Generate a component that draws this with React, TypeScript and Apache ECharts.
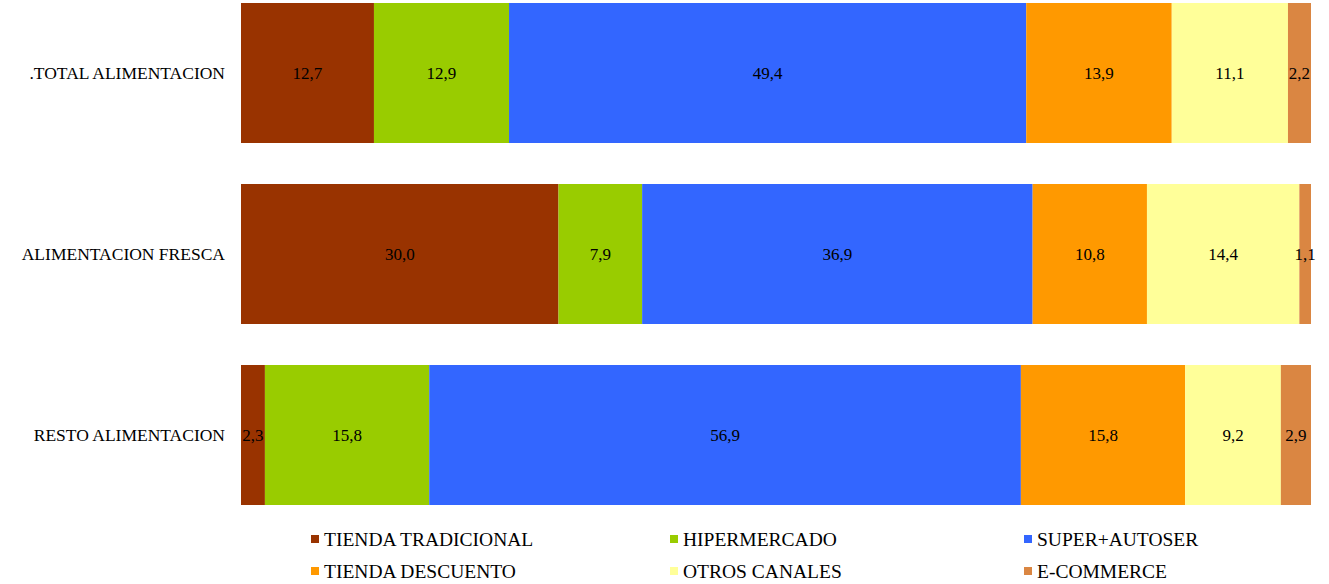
import React, { useEffect, useRef } from "react";
import * as echarts from "echarts";

const categories = [".TOTAL ALIMENTACION", "ALIMENTACION FRESCA", "RESTO ALIMENTACION"];
const seriesNames = ["TIENDA TRADICIONAL", "HIPERMERCADO", "SUPER+AUTOSER", "TIENDA DESCUENTO", "OTROS CANALES", "E-COMMERCE"];
const colors = ["#993300", "#99CC00", "#3366FF", "#FF9900", "#FFFF99", "#DA8642"];
const tiendaTradicional = [12.7, 30.0, 2.3];
const hipermercado = [12.9, 7.9, 15.8];
const superAutoser = [49.4, 36.9, 56.9];
const tiendaDescuento = [13.9, 10.8, 15.8];
const otrosCanales = [11.1, 14.4, 9.2];
const eCommerce = [2.2, 1.1, 2.9];

const rawSeries = [tiendaTradicional, hipermercado, superAutoser, tiendaDescuento, otrosCanales, eCommerce];
const legendPos = [
  { left: 311, top: 529 },
  { left: 670, top: 529 },
  { left: 1024, top: 529 },
  { left: 311, top: 561 },
  { left: 670, top: 561 },
  { left: 1024, top: 561 },
];

const FONT = "'Liberation Serif', 'DejaVu Serif', serif";

export default function App() {
  const ref = useRef<HTMLDivElement>(null);
  useEffect(() => {
    if (!ref.current) return;
    const chart = echarts.init(ref.current, null, { renderer: "svg" });
    const totals = categories.map((_, i) => rawSeries.reduce((s, arr) => s + arr[i], 0));
    const series = rawSeries.map((arr, k) => ({
      name: seriesNames[k],
      type: "bar",
      stack: "total",
      barWidth: 140,
      clip: false,
      itemStyle: { color: colors[k] },
      label: {
        show: true,
        position: "inside",
        color: "#000",
        fontFamily: FONT,
        fontSize: 17,
        formatter: (p: any) => arr[p.dataIndex].toFixed(1).replace(".", ","),
      },
      data: arr.map((v, i) => (v / totals[i]) * 100),
    }));
    chart.setOption({
      animation: false,
      textStyle: { fontFamily: FONT },
      grid: { left: 241, right: 18, top: 73, height: 362 },
      xAxis: {
        type: "value",
        min: 0,
        max: 100,
        show: false,
      },
      yAxis: {
        type: "category",
        data: categories,
        inverse: true,
        boundaryGap: false,
        axisLine: { show: false },
        axisTick: { show: false },
        splitLine: { show: false },
        axisLabel: { color: "#000", fontSize: 17.5, fontFamily: FONT, margin: 16 },
      },
      legend: seriesNames.map((n, k) => ({
        data: [n],
        left: legendPos[k].left,
        top: legendPos[k].top,
        icon: "rect",
        itemWidth: 8,
        itemHeight: 8,
        itemGap: 5,
        padding: 0,
        textStyle: { color: "#000", fontSize: 19.5, fontFamily: FONT },
      })),
      series,
    });
    return () => chart.dispose();
  }, []);
  return (
    <div
      ref={ref}
      style={{ position: "absolute", left: 0, top: 0, width: 1329, height: 584, background: "#fff" }}
    />
  );
}
